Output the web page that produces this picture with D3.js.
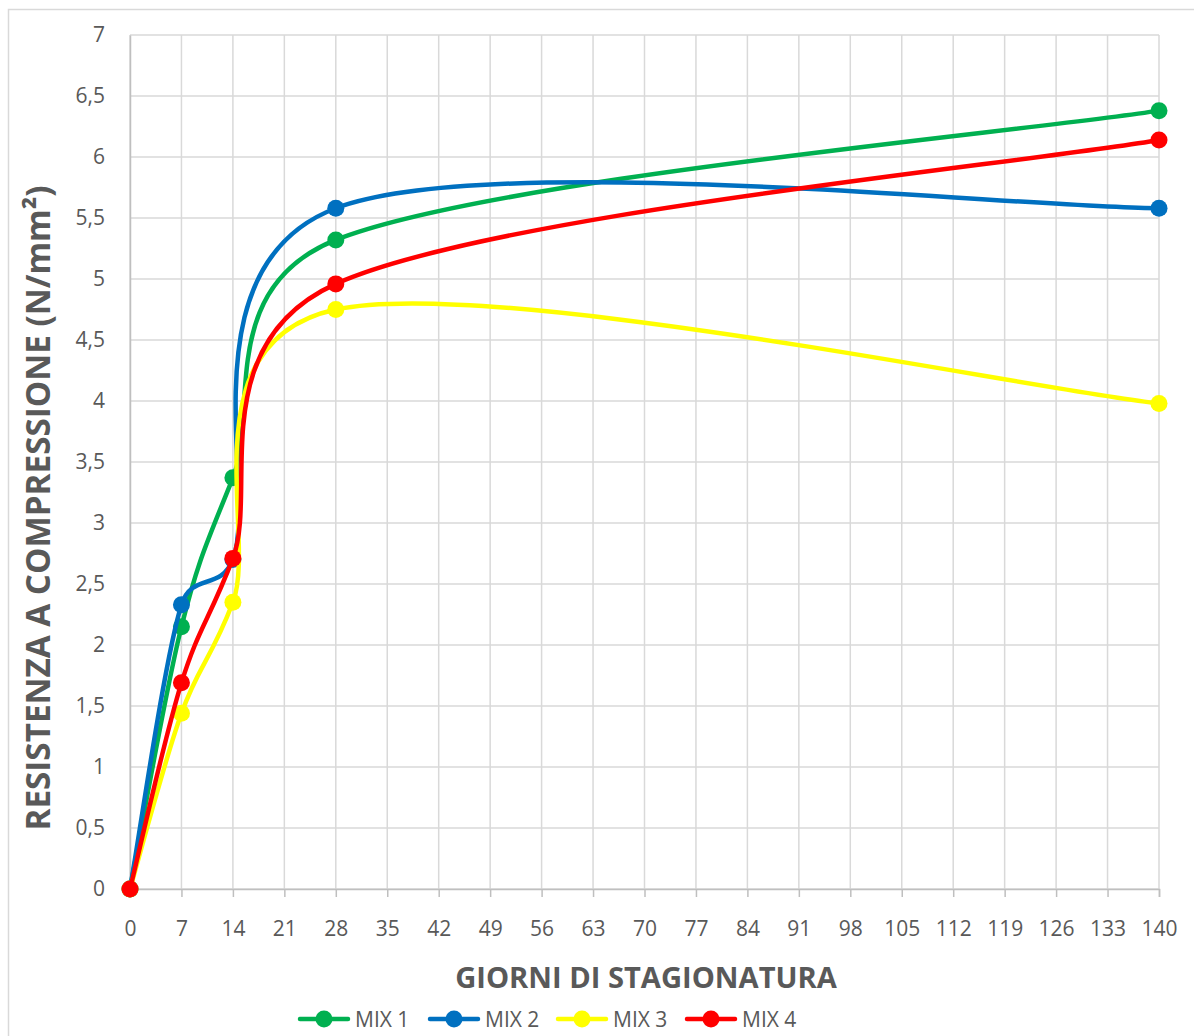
<!DOCTYPE html>
<html>
<head>
<meta charset="utf-8">
<script src="https://cdn.jsdelivr.net/npm/d3@7"></script>
<style>
  html, body { margin: 0; padding: 0; background: #fff; }
  svg { display: block; }
  text { font-family: "Open Sans", "Liberation Sans", sans-serif; fill: #595959; }
</style>
</head>
<body>
<div id="chart"></div>
<script>
// ---- data ----
const days = [0, 7, 14, 28, 140];
const mix1 = [0, 2.15, 3.37, 5.32, 6.38];
const mix2 = [0, 2.33, 2.70, 5.58, 5.58];
const mix3 = [0, 1.44, 2.35, 4.75, 3.98];
const mix4 = [0, 1.69, 2.71, 4.96, 6.14];
const seriesNames = ["MIX 1", "MIX 2", "MIX 3", "MIX 4"];
const seriesColors = ["#00B050", "#0070C0", "#FFFF00", "#FF0000"];
const xTicks = d3.range(0, 141, 7);
const yTicks = d3.range(0, 7.01, 0.5);
const xTitle = "GIORNI DI STAGIONATURA";
const yTitle = "RESISTENZA A COMPRESSIONE (N/mm²)";

const W = 1194, H = 1036;
const plot = { left: 130, right: 1159, top: 35, bottom: 889 };

const svg = d3.select("#chart").append("svg").attr("width", W).attr("height", H);

// outer chart border
svg.append("rect").attr("x", 8.5).attr("y", 9.5).attr("width", 1400).attr("height", 1200)
  .attr("fill", "none").attr("stroke", "#d9d9d9").attr("stroke-width", 1.5);

const x = d3.scaleLinear().domain([0, 140]).range([plot.left, plot.right]);
const y = d3.scaleLinear().domain([0, 7]).range([plot.bottom, plot.top]);

// grid
const grid = svg.append("g");
grid.selectAll("line.v").data(xTicks).join("line")
  .attr("x1", d => x(d)).attr("x2", d => x(d))
  .attr("y1", plot.top).attr("y2", plot.bottom)
  .attr("stroke", "#d9d9d9").attr("stroke-width", 1.5);
grid.selectAll("line.h").data(yTicks).join("line")
  .attr("x1", plot.left).attr("x2", plot.right)
  .attr("y1", d => y(d)).attr("y2", d => y(d))
  .attr("stroke", "#d9d9d9").attr("stroke-width", 1.5);

// x axis
const xAxis = d3.axisBottom(x).tickValues(xTicks).tickSize(8).tickPadding(24).tickFormat(d3.format("d"));
const gx = svg.append("g").attr("transform", `translate(0,${plot.bottom})`).call(xAxis);
gx.select(".domain").attr("stroke", "#bfbfbf").attr("stroke-width", 1.5);
gx.selectAll(".tick line").attr("stroke", "#bfbfbf").attr("stroke-width", 1.5);
gx.selectAll(".tick text").attr("font-size", 21).style("fill", "#595959")
  .attr("font-family", "Open Sans");

// y axis
const yAxis = d3.axisLeft(y).tickValues(yTicks).tickSize(0).tickPadding(25)
  .tickFormat(d => d3.format("~g")(d).replace(".", ","));
const gy = svg.append("g").attr("transform", `translate(${plot.left},0)`).call(yAxis);
gy.select(".domain").attr("stroke", "#bfbfbf").attr("stroke-width", 1.5);
gy.selectAll(".tick text").attr("font-size", 21).style("fill", "#595959")
  .attr("font-family", "Open Sans");

// titles (sized to match the reference text lengths)
function fitText(sel, targetWidth) {
  const w = sel.node().getComputedTextLength();
  const f = +sel.attr("font-size");
  sel.attr("font-size", f * targetWidth / w);
}
const xt = svg.append("text").attr("x", 646).attr("y", 977)
  .attr("text-anchor", "middle").attr("dominant-baseline", "central")
  .attr("font-weight", "bold").attr("font-size", 26).text(xTitle);
fitText(xt, 382);

const yt = svg.append("text").attr("transform", `translate(37,508) rotate(-90)`)
  .attr("text-anchor", "middle").attr("dominant-baseline", "central")
  .attr("font-weight", "bold").attr("font-size", 26).text(yTitle);
fitText(yt, 645);

// Excel-like smoothed line: Bezier with 1/6 tangents, arm capped at half segment length
function smoothPath(pts) {
  const p = d3.path();
  const dist = (a, b) => Math.hypot(b[0] - a[0], b[1] - a[1]);
  p.moveTo(pts[0][0], pts[0][1]);
  for (let i = 0; i < pts.length - 1; i++) {
    const p0 = pts[i - 1] || pts[i];
    const p1 = pts[i];
    const p2 = pts[i + 1];
    const p3 = pts[i + 2] || pts[i + 1];
    const d12 = dist(p1, p2), d02 = dist(p0, p2), d13 = dist(p1, p3);
    const f1 = (d02 / 6 < d12 / 2) ? 1 / 6 : d12 / (2 * d02);
    const f2 = (d13 / 6 < d12 / 2) ? 1 / 6 : d12 / (2 * d13);
    const c1 = [p1[0] + f1 * (p2[0] - p0[0]), p1[1] + f1 * (p2[1] - p0[1])];
    const c2 = [p2[0] - f2 * (p3[0] - p1[0]), p2[1] - f2 * (p3[1] - p1[1])];
    p.bezierCurveTo(c1[0], c1[1], c2[0], c2[1], p2[0], p2[1]);
  }
  return p.toString();
}

// series
const allSeries = [mix1, mix2, mix3, mix4];
allSeries.forEach((vals, i) => {
  const pts = days.map((d, j) => [d, vals[j]]);
  const px = pts.map(d => [x(d[0]), y(d[1])]);
  const g = svg.append("g");
  g.append("path").attr("d", smoothPath(px)).attr("fill", "none")
    .attr("stroke", seriesColors[i]).attr("stroke-width", 4.5)
    .attr("stroke-linejoin", "round").attr("stroke-linecap", "round");
  g.selectAll("circle").data(pts).join("circle")
    .attr("cx", d => x(d[0])).attr("cy", d => y(d[1])).attr("r", 8.5)
    .attr("fill", seriesColors[i]);
});

// legend
const legendX = [300, 430, 558, 687];
const legY = 1019;
const lg = svg.append("g");
seriesNames.forEach((name, i) => {
  const lx = legendX[i];
  lg.append("line").attr("x1", lx).attr("x2", lx + 48).attr("y1", legY).attr("y2", legY)
    .attr("stroke", seriesColors[i]).attr("stroke-width", 4.5).attr("stroke-linecap", "round");
  lg.append("circle").attr("cx", lx + 24).attr("cy", legY).attr("r", 8.5).attr("fill", seriesColors[i]);
  lg.append("text").attr("x", lx + 55).attr("y", legY).attr("dominant-baseline", "central")
    .attr("font-size", 21).text(name);
});
</script>
</body>
</html>
